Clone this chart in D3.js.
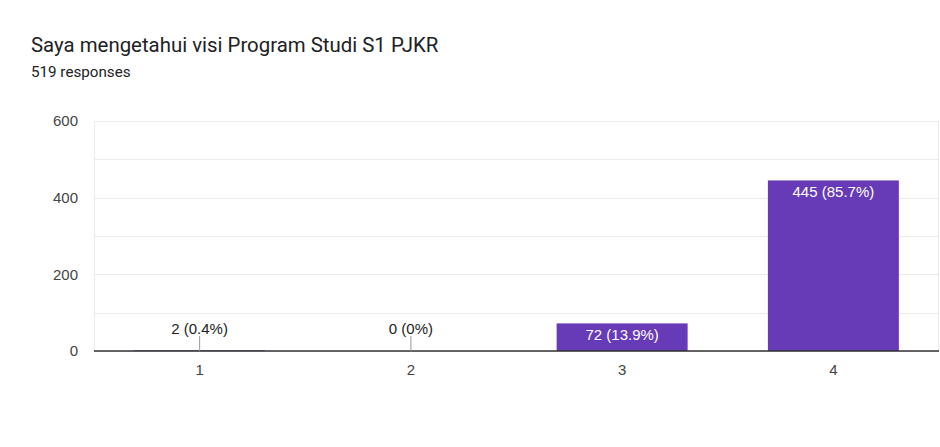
<!DOCTYPE html>
<html>
<head>
<meta charset="utf-8">
<script src="https://cdn.jsdelivr.net/npm/d3@7"></script>
<style>
  body { margin: 0; background: #fff; }
  svg { font-family: "Liberation Sans", Arial, sans-serif; }
</style>
</head>
<body>
<script>
// survey answers (scale 1-4)
var categories = ["1", "2", "3", "4"];
var counts = [2, 0, 72, 445];
var percents = ["0.4%", "0%", "13.9%", "85.7%"];
var yTicks = [0, 200, 400, 600];
var yGrid = [0, 100, 200, 300, 400, 500, 600];

var width = 940;
var height = 447;

var margin = { left: 94, right: 1, top: 121, bottom: 96 };

var svg = d3.select("body").append("svg")
    .attr("width", width)
    .attr("height", height);

svg.append("text")
    .attr("x", 31)
    .attr("y", 52)
    .attr("font-family", "Roboto, sans-serif")
    .attr("font-size", 20.4)
    .attr("fill", "#202124")
    .text("Saya mengetahui visi Program Studi S1 PJKR");

svg.append("text")
    .attr("x", 31)
    .attr("y", 77)
    .attr("font-family", "Roboto, sans-serif")
    .attr("font-size", 15.2)
    .attr("fill", "#202124")
    .text("519 responses");

var x = d3.scaleBand()
    .domain(categories)
    .range([margin.left, width - margin.right])
    .paddingInner(0.38)
    .paddingOuter(0.19);

var y = d3.scaleLinear()
    .domain([0, 600])
    .range([height - margin.bottom, margin.top]);

var chart = svg.append("g");

// grid lines
chart.selectAll(".grid")
    .data(yGrid)
    .enter().append("line")
    .attr("x1", margin.left)
    .attr("x2", width - margin.right)
    .attr("y1", function (d) { return Math.round(y(d)) + 0.5; })
    .attr("y2", function (d) { return Math.round(y(d)) + 0.5; })
    .attr("stroke", "#ebebeb")
    .attr("stroke-width", 1);

// plot area sides
[margin.left, width - margin.right - 1].forEach(function (xx) {
    chart.append("line")
        .attr("x1", xx + 0.5).attr("x2", xx + 0.5)
        .attr("y1", y(600)).attr("y2", y(0))
        .attr("stroke", "#ebebeb");
});

// y axis labels
var yAxis = d3.axisLeft(y).tickValues(yTicks).tickSize(0).tickPadding(16);
var yg = chart.append("g")
    .attr("transform", `translate(${margin.left} 0)`)
    .call(yAxis);
yg.select(".domain").remove();
yg.selectAll("text")
    .attr("font-size", 15)
    .attr("font-family", "'Liberation Sans', Arial, sans-serif")
    .attr("fill", "#444");

// x axis labels
var xAxis = d3.axisBottom(x).tickSize(0).tickPadding(13);
var xg = chart.append("g")
    .attr("transform", `translate(0 ${y(0)})`)
    .call(xAxis);
xg.select(".domain").remove();
xg.selectAll("text")
    .attr("font-size", 15)
    .attr("font-family", "'Liberation Sans', Arial, sans-serif")
    .attr("fill", "#444");

var rows = categories.map(function (c, i) {
    return { cat: c, n: counts[i], pct: percents[i] };
});

// bars
chart.selectAll(".bar")
    .data(rows)
    .enter().append("rect")
    .attr("x", function (d) { return x(d.cat); })
    .attr("y", function (d) { return y(d.n); })
    .attr("width", x.bandwidth())
    .attr("height", function (d) { return y(0) - y(d.n); })
    .attr("fill", "#673ab7");

// baseline
chart.append("line")
    .attr("x1", margin.left)
    .attr("x2", width - margin.right)
    .attr("y1", y(0))
    .attr("y2", y(0))
    .attr("stroke", "#333")
    .attr("stroke-width", 1.5);

// labels: inside tall bars, above with a stem for tiny ones
rows.forEach(function (d) {
    var cx = x(d.cat) + x.bandwidth() / 2;
    var inside = (y(0) - y(d.n)) > 20;
    if (inside) {
        chart.append("text")
            .attr("x", cx)
            .attr("y", y(d.n) + 16.5)
            .attr("text-anchor", "middle")
            .attr("font-size", 15)
            .attr("fill", "#fff")
            .text(d.n + " (" + d.pct + ")");
    } else {
        chart.append("line")
            .attr("x1", cx).attr("x2", cx)
            .attr("y1", y(0) - 15).attr("y2", y(0))
            .attr("stroke", "#999");
        chart.append("text")
            .attr("x", cx)
            .attr("y", y(0) - 17)
            .attr("text-anchor", "middle")
            .attr("font-size", 15)
            .attr("fill", "#222")
            .text(d.n + " (" + d.pct + ")");
    }
});
</script>
</body>
</html>
